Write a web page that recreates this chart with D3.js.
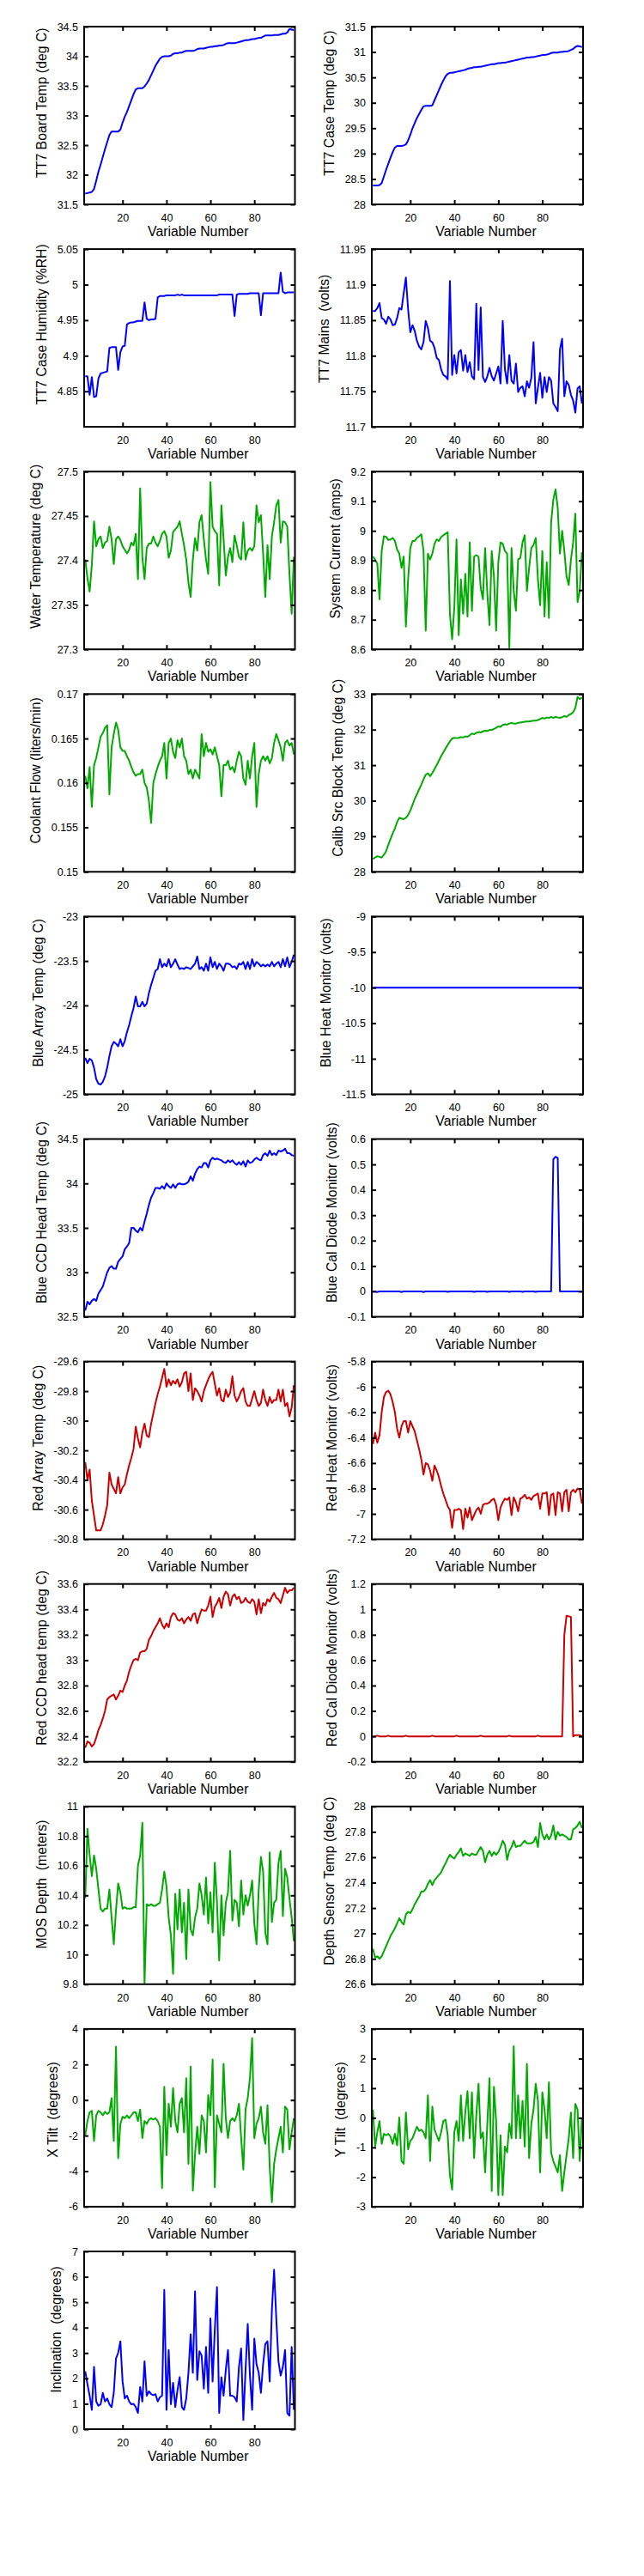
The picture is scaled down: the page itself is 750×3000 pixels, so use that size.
<!DOCTYPE html>
<html><head><meta charset="utf-8">
<script src="https://cdn.jsdelivr.net/npm/d3@7"></script>
<style>
body{margin:0;background:#fff}
svg text{font-family:"Liberation Sans",Arial,Helvetica,sans-serif;fill:#000}
</style></head>
<body><svg id="chart" width="750" height="3000"></svg>
<script>
// ---------------- DATA ----------------
const varNum = [3,4,5,6,7,8,9,10,11,12,13,14,15,16,17,18,19,20,21,22,23,24,25,26,27,28,29,30,31,32,33,34,35,36,37,38,39,40,41,42,43,44,45,46,47,48,49,50,51,52,53,54,55,56,57,58,59,60,61,62,63,64,65,66,67,68,69,70,71,72,73,74,75,76,77,78,79,80,81,82,83,84,85,86,87,88,89,90,91,92,93,94,95,96,97,98];
const xTicks = [20,40,60,80];
const xLabel = "Variable Number";

const tt7BoardTemp = [
31.68,31.69,31.70,31.71,31.76,31.90,32.05,32.17,32.30,32.43,
32.55,32.67,32.73,32.73,32.73,32.73,32.76,32.88,32.98,33.06,
33.16,33.26,33.36,33.44,33.46,33.46,33.46,33.49,33.54,33.60,
33.68,33.76,33.84,33.90,33.96,33.99,34.00,34.00,34.00,34.01,
34.04,34.05,34.05,34.06,34.06,34.08,34.09,34.09,34.09,34.09,
34.10,34.12,34.13,34.13,34.13,34.14,34.15,34.16,34.16,34.17,
34.17,34.18,34.18,34.19,34.21,34.22,34.22,34.22,34.22,34.23,
34.24,34.25,34.26,34.27,34.27,34.28,34.29,34.29,34.30,34.31,
34.31,34.33,34.35,34.35,34.35,34.35,34.36,34.36,34.36,34.37,
34.38,34.38,34.40,34.46,34.45,34.44];
const tt7CaseTemp = [
28.37,28.37,28.37,28.38,28.42,28.55,28.68,28.80,28.92,29.03,
29.12,29.15,29.15,29.15,29.16,29.18,29.26,29.37,29.50,29.60,
29.70,29.78,29.86,29.93,29.94,29.94,29.94,29.95,30.05,30.15,
30.25,30.35,30.44,30.52,30.57,30.59,30.59,30.60,30.61,30.62,
30.63,30.64,30.65,30.67,30.68,30.69,30.70,30.70,30.71,30.71,
30.72,30.73,30.74,30.75,30.76,30.76,30.77,30.78,30.78,30.79,
30.79,30.80,30.81,30.82,30.83,30.84,30.85,30.86,30.87,30.88,
30.89,30.89,30.90,30.90,30.91,30.92,30.93,30.94,30.94,30.95,
30.96,30.98,30.99,30.99,30.99,31.00,31.00,31.01,31.01,31.02,
31.04,31.06,31.10,31.12,31.11,31.10];
const tt7CaseHumidity = [
4.871,4.871,4.845,4.870,4.842,4.843,4.868,4.875,4.876,4.877,
4.878,4.911,4.912,4.912,4.912,4.880,4.905,4.913,4.914,4.944,
4.946,4.947,4.947,4.948,4.949,4.949,4.949,4.975,4.952,4.950,
4.951,4.951,4.952,4.982,4.984,4.984,4.984,4.985,4.985,4.985,
4.985,4.985,4.986,4.985,4.986,4.985,4.985,4.985,4.985,4.985,
4.985,4.985,4.985,4.985,4.985,4.985,4.985,4.985,4.985,4.985,
4.985,4.986,4.986,4.986,4.986,4.986,4.986,4.986,4.956,4.986,
4.987,4.987,4.987,4.987,4.987,4.988,4.988,4.988,4.988,4.988,
4.957,4.988,4.988,4.988,4.988,4.988,4.988,4.988,4.988,5.017,
4.990,4.988,4.989,4.989,4.989,4.989];
const tt7Mains = [
11.863,11.863,11.867,11.874,11.853,11.851,11.845,11.855,11.851,11.843,
11.844,11.853,11.867,11.865,11.888,11.910,11.865,11.833,11.843,11.835,
11.821,11.813,11.809,11.819,11.849,11.839,11.821,11.819,11.811,11.797,
11.794,11.781,11.773,11.771,11.767,11.905,11.773,11.801,11.775,11.805,
11.808,11.779,11.801,11.777,11.791,11.771,11.767,11.873,11.780,11.868,
11.770,11.763,11.771,11.783,11.771,11.765,11.775,11.785,11.761,11.849,
11.781,11.761,11.801,11.765,11.761,11.789,11.749,11.755,11.757,11.743,
11.764,11.755,11.769,11.819,11.733,11.755,11.776,11.741,11.770,11.749,
11.770,11.765,11.733,11.728,11.722,11.809,11.824,11.743,11.764,11.759,
11.745,11.737,11.720,11.754,11.757,11.733];
const waterTemp = [
27.401,27.380,27.365,27.395,27.444,27.416,27.424,27.427,27.414,27.420,
27.422,27.438,27.424,27.396,27.424,27.427,27.423,27.416,27.412,27.408,
27.412,27.420,27.417,27.430,27.379,27.481,27.404,27.379,27.414,27.419,
27.419,27.427,27.420,27.416,27.422,27.430,27.433,27.427,27.403,27.411,
27.432,27.435,27.438,27.444,27.430,27.417,27.401,27.375,27.359,27.401,
27.425,27.411,27.443,27.451,27.424,27.401,27.385,27.488,27.438,27.433,
27.430,27.372,27.462,27.424,27.383,27.404,27.414,27.398,27.428,27.417,
27.404,27.401,27.443,27.401,27.411,27.414,27.411,27.416,27.462,27.443,
27.451,27.408,27.359,27.417,27.379,27.427,27.443,27.462,27.468,27.420,
27.444,27.443,27.438,27.385,27.340,27.404];
const systemCurrent = [
8.913,8.903,8.889,8.769,8.932,8.982,8.980,8.969,8.971,8.976,
8.966,8.937,8.923,8.875,8.913,8.677,8.836,8.942,8.966,8.966,
8.976,8.982,8.988,8.932,8.663,8.923,8.903,8.923,8.956,8.971,
8.966,8.979,8.985,8.990,8.995,8.720,8.634,8.740,8.971,8.648,
8.836,8.720,8.855,8.711,8.961,8.730,8.913,8.918,8.913,8.807,
8.769,8.942,8.788,8.682,8.932,8.846,8.663,8.894,8.961,8.956,
8.932,8.923,8.605,8.942,8.797,8.730,8.903,8.908,8.961,8.985,
8.797,8.875,8.942,8.952,8.976,8.836,8.749,8.932,8.711,8.894,
8.706,9.029,9.106,9.140,9.077,8.923,9.000,8.932,8.846,8.817,
8.903,8.961,9.058,8.759,8.797,8.928];
const coolantFlow = [
0.1608,0.1594,0.1618,0.1573,0.1620,0.1628,0.1640,0.1652,0.1656,0.1662,
0.1665,0.1587,0.1640,0.1655,0.1668,0.1660,0.1640,0.1636,0.1636,0.1630,
0.1625,0.1618,0.1612,0.1608,0.1610,0.1610,0.1615,0.1600,0.1595,0.1580,
0.1555,0.1600,0.1610,0.1618,0.1625,0.1630,0.1645,0.1605,0.1645,0.1650,
0.1635,0.1628,0.1648,0.1640,0.1650,0.1630,0.1625,0.1610,0.1615,0.1605,
0.1615,0.1610,0.1605,0.1655,0.1630,0.1645,0.1635,0.1638,0.1632,0.1640,
0.1630,0.1620,0.1585,0.1620,0.1620,0.1625,0.1615,0.1618,0.1612,0.1625,
0.1635,0.1630,0.1605,0.1598,0.1625,0.1605,0.1630,0.1645,0.1573,0.1610,
0.1625,0.1630,0.1625,0.1630,0.1622,0.1628,0.1645,0.1655,0.1648,0.1640,
0.1625,0.1645,0.1648,0.1642,0.1645,0.1632];
const calibSrcBlockTemp = [
28.36,28.40,28.44,28.42,28.40,28.48,28.58,28.76,28.92,29.08,
29.22,29.40,29.52,29.50,29.48,29.52,29.60,29.72,29.88,30.05,
30.18,30.32,30.45,30.60,30.73,30.77,30.69,30.78,30.89,31.00,
31.13,31.25,31.36,31.47,31.57,31.67,31.75,31.77,31.76,31.77,
31.79,31.78,31.81,31.80,31.84,31.89,31.87,31.91,31.93,31.92,
31.95,31.97,31.96,31.99,31.99,32.02,32.05,32.09,32.08,32.13,
32.15,32.14,32.17,32.19,32.17,32.17,32.19,32.20,32.21,32.22,
32.23,32.23,32.24,32.25,32.25,32.27,32.30,32.33,32.31,32.34,
32.33,32.36,32.33,32.36,32.34,32.33,32.35,32.38,32.36,32.41,
32.44,32.49,32.61,32.92,32.86,32.90];
const blueArrayTemp = [
-24.59,-24.65,-24.60,-24.62,-24.70,-24.83,-24.88,-24.89,-24.86,-24.80,
-24.70,-24.57,-24.46,-24.41,-24.43,-24.46,-24.38,-24.46,-24.40,-24.30,
-24.22,-24.12,-24.03,-23.90,-24.01,-24.01,-23.96,-24.01,-23.98,-23.86,
-23.77,-23.69,-23.61,-23.59,-23.48,-23.57,-23.53,-23.56,-23.48,-23.57,
-23.53,-23.48,-23.54,-23.59,-23.58,-23.59,-23.57,-23.58,-23.59,-23.56,
-23.53,-23.45,-23.59,-23.57,-23.61,-23.53,-23.61,-23.46,-23.57,-23.51,
-23.59,-23.53,-23.56,-23.61,-23.53,-23.53,-23.54,-23.57,-23.56,-23.59,
-23.53,-23.54,-23.51,-23.59,-23.51,-23.59,-23.48,-23.56,-23.51,-23.53,
-23.56,-23.54,-23.56,-23.54,-23.56,-23.51,-23.56,-23.53,-23.51,-23.57,
-23.48,-23.56,-23.46,-23.57,-23.51,-23.43];
const blueHeatMonitor = [
-10,-10,-10,-10,-10,-10,-10,-10,-10,-10,
-10,-10,-10,-10,-10,-10,-10,-10,-10,-10,
-10,-10,-10,-10,-10,-10,-10,-10,-10,-10,
-10,-10,-10,-10,-10,-10,-10,-10,-10,-10,
-10,-10,-10,-10,-10,-10,-10,-10,-10,-10,
-10,-10,-10,-10,-10,-10,-10,-10,-10,-10,
-10,-10,-10,-10,-10,-10,-10,-10,-10,-10,
-10,-10,-10,-10,-10,-10,-10,-10,-10,-10,
-10,-10,-10,-10,-10,-10,-10,-10,-10,-10,
-10,-10,-10,-10,-10,-10];
const blueCcdHeadTemp = [
32.57,32.67,32.64,32.68,32.70,32.68,32.76,32.80,32.84,32.92,
33.00,33.05,33.07,33.04,33.04,33.12,33.15,33.18,33.26,33.29,
33.33,33.50,33.50,33.47,33.45,33.50,33.47,33.57,33.66,33.76,
33.84,33.89,33.95,33.95,33.94,33.97,33.94,34.00,33.97,33.95,
33.99,33.95,33.99,34.00,33.99,33.99,34.00,34.02,34.08,34.03,
34.11,34.16,34.19,34.18,34.23,34.23,34.18,34.26,34.29,34.27,
34.28,34.27,34.26,34.24,34.23,34.26,34.24,34.26,34.23,34.21,
34.24,34.21,34.25,34.19,34.26,34.23,34.24,34.27,34.29,34.27,
34.26,34.32,34.34,34.31,34.37,34.32,34.34,34.32,34.37,34.36,
34.37,34.39,34.34,34.34,34.32,34.31];
const blueCalDiode = [
0,0,-0.003,0,0,0,0,0,0,0,
0,0,0,-0.003,0,0,0,0,0,0,
0,0,0,-0.003,0,0,0,0,0,0,
0,0,0,0,-0.002,0,0,0,0,0,
0,0,0,0,0,0,-0.002,0,0,0,
0,0,-0.002,0,0,0,0,0,0,0,
0,0,-0.002,0,0,0,0,0,-0.002,0,
0,0,0,0,-0.002,0,0,0,0,0,
0,0,0.52,0.53,0.525,0,0,0,0,0,
0,0,0,0,0,0];
const redArrayTemp = [
-30.28,-30.40,-30.33,-30.54,-30.64,-30.74,-30.74,-30.74,-30.70,-30.64,
-30.57,-30.35,-30.43,-30.46,-30.49,-30.38,-30.49,-30.45,-30.43,-30.36,
-30.30,-30.25,-30.19,-30.04,-30.12,-30.18,-30.08,-30.02,-30.10,-30.11,
-30.02,-29.95,-29.88,-29.82,-29.77,-29.71,-29.65,-29.77,-29.72,-29.76,
-29.73,-29.75,-29.72,-29.77,-29.74,-29.68,-29.67,-29.80,-29.68,-29.86,
-29.78,-29.80,-29.83,-29.87,-29.80,-29.76,-29.72,-29.69,-29.67,-29.75,
-29.83,-29.78,-29.86,-29.87,-29.79,-29.84,-29.81,-29.70,-29.83,-29.87,
-29.84,-29.80,-29.78,-29.87,-29.90,-29.90,-29.85,-29.80,-29.86,-29.90,
-29.88,-29.79,-29.86,-29.90,-29.84,-29.88,-29.86,-29.86,-29.79,-29.87,
-29.79,-29.90,-29.88,-29.97,-29.91,-29.76];
const redHeatMonitor = [
-6.45,-6.36,-6.44,-6.38,-6.20,-6.08,-6.04,-6.03,-6.06,-6.12,
-6.20,-6.33,-6.40,-6.31,-6.27,-6.27,-6.36,-6.27,-6.31,-6.35,
-6.42,-6.49,-6.57,-6.69,-6.60,-6.61,-6.66,-6.74,-6.62,-6.66,
-6.71,-6.78,-6.84,-6.89,-6.94,-6.97,-7.11,-6.97,-6.97,-6.96,
-6.97,-7.12,-6.96,-7.03,-6.95,-7.05,-7.01,-6.97,-6.95,-7.00,
-6.93,-6.92,-6.92,-6.91,-6.89,-6.88,-6.93,-7.05,-6.95,-6.91,
-6.88,-6.89,-6.87,-7.01,-6.87,-6.91,-6.98,-6.88,-6.87,-6.85,
-6.88,-6.87,-6.89,-6.86,-6.85,-6.84,-6.96,-6.84,-6.84,-6.83,
-7.01,-6.85,-6.84,-7.01,-6.83,-6.84,-6.98,-6.83,-6.81,-6.98,
-6.83,-6.81,-6.83,-6.80,-6.81,-6.92];
const redCcdHeadTemp = [
32.31,32.36,32.35,32.32,32.34,32.39,32.45,32.49,32.54,32.60,
32.69,32.71,32.72,32.73,32.69,32.72,32.76,32.75,32.80,32.84,
32.91,32.96,33.00,33.01,33.00,33.06,33.07,33.07,33.09,33.16,
33.19,33.23,33.26,33.29,33.33,33.28,33.25,33.29,33.26,33.34,
33.37,33.36,33.32,33.31,33.33,33.29,33.32,33.34,33.31,33.36,
33.37,33.29,33.35,33.40,33.39,33.39,33.43,33.50,33.34,33.42,
33.45,33.49,33.41,33.50,33.54,33.52,33.43,33.50,33.52,33.48,
33.50,33.45,33.46,33.49,33.46,33.45,33.48,33.46,33.36,33.48,
33.37,33.45,33.43,33.48,33.46,33.50,33.53,33.49,33.48,33.45,
33.51,33.57,33.53,33.55,33.55,33.57];
const redCalDiode = [
0,0,0.005,0,0,0,0,0.005,0,0,
0,0,0,0,0,0.005,0,0,0,0,
0,0,0,0,0,0,0,0.005,0,0,
0,0,0,0,0,0,0,0,0.005,0,
0,0,0,0,0,0,0,0,0,0.005,
0,0,0,0,0,0,0,0,0,0,
0,0,0.005,0,0,0,0,0,0,0,
0,0,0,0,0,0.005,0,0,0,0,
0,0,0,0,0,0,0,0.80,0.95,0.945,
0.94,0,0.01,0.01,0.01,0];
const mosDepth = [
10.38,10.85,10.67,10.53,10.67,10.58,10.44,10.31,10.29,10.31,
10.31,10.44,10.25,10.07,10.30,10.48,10.42,10.31,10.32,10.31,
10.31,10.31,10.32,10.32,10.60,10.67,10.89,9.80,10.34,10.33,
10.34,10.33,10.33,10.34,10.35,10.44,10.56,10.46,10.25,10.13,
9.87,10.41,10.17,10.44,10.15,10.35,9.97,10.44,10.17,10.13,
10.25,10.31,10.48,10.40,10.27,10.52,10.21,10.42,10.15,10.62,
10.35,9.96,10.40,10.13,10.35,10.42,10.70,10.23,10.37,10.35,
10.19,10.50,10.27,10.40,10.33,10.40,10.50,10.21,10.07,10.44,
10.66,10.56,10.15,10.07,10.69,10.22,10.35,10.37,10.62,10.70,
10.26,10.58,10.52,10.38,10.25,10.09];
const depthSensorTemp = [
26.88,26.81,26.82,26.80,26.82,26.86,26.90,26.94,26.98,27.01,
27.04,27.08,27.12,27.09,27.07,27.15,27.17,27.16,27.19,27.23,
27.26,27.29,27.33,27.33,27.35,27.39,27.42,27.38,27.42,27.44,
27.46,27.48,27.52,27.55,27.59,27.62,27.60,27.59,27.62,27.64,
27.67,27.61,27.63,27.62,27.61,27.63,27.62,27.62,27.65,27.68,
27.65,27.56,27.62,27.65,27.61,27.64,27.62,27.64,27.68,27.73,
27.70,27.58,27.65,27.68,27.73,27.68,27.69,27.69,27.71,27.73,
27.71,27.71,27.71,27.72,27.76,27.68,27.87,27.78,27.74,27.78,
27.74,27.77,27.85,27.74,27.80,27.77,27.78,27.77,27.76,27.74,
27.74,27.82,27.83,27.85,27.88,27.83];
const xTilt = [
-1.98,-1.18,-0.69,-0.61,-2.30,-0.86,-0.61,-0.69,-0.86,-0.66,
-0.78,-0.69,0.11,-2.30,3.00,-3.27,-1.34,-0.94,-1.02,-0.86,
-1.02,-0.86,-0.69,-0.69,-1.18,-0.53,-2.14,-1.18,-1.34,-1.10,
-1.02,-1.10,-1.02,-1.18,-1.50,-4.95,0.75,-3.11,-0.21,-1.50,
0.67,-1.18,-1.82,-0.21,0.11,-1.82,1.23,-3.59,1.88,-5.10,
-3.03,-1.50,-3.03,-0.86,-1.18,-2.95,0.27,-0.86,2.28,-4.90,
-0.86,-1.34,-1.82,2.04,-1.02,-2.14,-1.18,-1.02,-1.18,-0.86,
-0.21,-2.14,-3.91,-0.53,0.11,1.23,3.49,-2.14,-1.34,-1.02,
-0.37,-1.82,-2.46,-0.29,-3.75,-5.75,-3.59,-2.78,-2.14,-1.50,
-2.95,-0.37,-0.53,-2.78,-1.82,-1.02];
const yTilt = [
0.28,-0.97,-0.49,-0.11,-0.88,-0.54,-0.59,-0.54,-0.64,-0.88,
-0.54,-0.93,0.01,-1.46,-1.55,0.18,-1.07,-0.78,-0.69,-0.49,
-0.30,-0.44,-0.40,-0.49,-0.69,0.76,-1.46,0.38,-0.40,-0.59,
-0.78,-0.49,-0.11,-0.06,-0.59,-1.94,-2.42,-0.49,-0.11,-0.78,
0.76,-0.78,0.20,0.90,-0.69,0.86,-1.36,0.09,1.15,-0.69,
-0.49,-1.84,-0.20,1.34,-2.47,1.05,-0.11,-2.61,-0.59,-2.61,
-0.97,-1.17,-0.20,-0.69,2.42,-0.69,0.76,-0.69,0.57,-0.97,
1.82,-1.36,-0.20,0.28,1.15,0.57,-1.84,0.86,0.28,-0.69,
1.20,-1.17,-1.46,-1.65,-1.84,-1.26,-2.47,-1.84,-1.26,-0.69,
0.18,-1.36,0.47,0.28,-1.46,0.01];
const inclination = [
2.28,1.77,1.32,0.76,2.45,1.09,0.92,0.98,1.43,1.09,
1.21,0.98,0.87,1.43,2.78,3.01,3.46,1.88,1.21,1.32,
1.09,0.98,1.00,0.87,0.64,1.66,1.09,2.67,1.32,1.49,
1.38,1.34,1.38,1.09,1.26,1.32,5.49,0.76,3.12,0.98,
1.83,0.87,1.54,2.05,0.87,0.76,1.21,2.22,3.74,2.22,
5.43,1.94,3.07,2.90,1.60,3.24,1.43,4.36,1.88,3.91,
5.60,0.64,2.05,1.32,2.33,3.12,1.32,1.32,1.26,1.09,
2.45,3.18,0.36,2.33,4.14,2.11,0.76,3.57,2.56,2.22,
1.43,2.56,3.35,3.46,1.88,4.70,6.28,4.36,2.67,2.11,
2.45,3.12,0.64,0.53,3.24,0.76];

// y-axis labels, limits and ticks for each panel (reading order)
const yLabels = ["TT7 Board Temp (deg C)","TT7 Case Temp (deg C)","TT7 Case Humidity (%RH)","TT7 Mains  (volts)",
 "Water Temperature (deg C)","System Current (amps)","Coolant Flow (liters/min)","Calib Src Block Temp (deg C)",
 "Blue Array Temp (deg C)","Blue Heat Monitor (volts)","Blue CCD Head Temp (deg C)","Blue Cal Diode Monitor (volts)",
 "Red Array Temp (deg C)","Red Heat Monitor (volts)","Red CCD head temp (deg C)","Red Cal Diode Monitor (volts)",
 "MOS Depth  (meters)","Depth Sensor Temp (deg C)","X Tilt  (degrees)","Y Tilt  (degrees)","Inclination  (degrees)"];
const yLimits = [[31.5,34.5],[28,31.5],[4.8,5.05],[11.7,11.95],
 [27.3,27.5],[8.6,9.2],[0.15,0.17],[28,33],
 [-25,-23],[-11.5,-9],[32.5,34.5],[-0.1,0.6],
 [-30.8,-29.6],[-7.2,-5.8],[32.2,33.6],[-0.2,1.2],
 [9.8,11],[26.6,28],[-6,4],[-3,3],[0,7]];
const yTickValues = [
 [31.5,32,32.5,33,33.5,34,34.5],[28,28.5,29,29.5,30,30.5,31,31.5],[4.85,4.9,4.95,5,5.05],[11.7,11.75,11.8,11.85,11.9,11.95],
 [27.3,27.35,27.4,27.45,27.5],[8.6,8.7,8.8,8.9,9,9.1,9.2],[0.15,0.155,0.16,0.165,0.17],[28,29,30,31,32,33],
 [-25,-24.5,-24,-23.5,-23],[-11.5,-11,-10.5,-10,-9.5,-9],[32.5,33,33.5,34,34.5],[-0.1,0,0.1,0.2,0.3,0.4,0.5,0.6],
 [-30.8,-30.6,-30.4,-30.2,-30,-29.8,-29.6],[-7.2,-7,-6.8,-6.6,-6.4,-6.2,-6,-5.8],[32.2,32.4,32.6,32.8,33,33.2,33.4,33.6],[-0.2,0,0.2,0.4,0.6,0.8,1,1.2],
 [9.8,10,10.2,10.4,10.6,10.8,11],[26.6,26.8,27,27.2,27.4,27.6,27.8,28],[-6,-4,-2,0,2,4],[-3,-2,-1,0,1,2,3],[0,1,2,3,4,5,6,7]];
const seriesList = [tt7BoardTemp,tt7CaseTemp,tt7CaseHumidity,tt7Mains,
 waterTemp,systemCurrent,coolantFlow,calibSrcBlockTemp,
 blueArrayTemp,blueHeatMonitor,blueCcdHeadTemp,blueCalDiode,
 redArrayTemp,redHeatMonitor,redCcdHeadTemp,redCalDiode,
 mosDepth,depthSensorTemp,xTilt,yTilt,inclination];
const seriesColorKey = ["b","b","b","b","g","g","g","g","b","b","b","b","r","r","r","r","g","g","g","g","b"];

// ---------------- DRAWING ----------------
const COLORS = {b:"#0000ff", g:"#00aa00", r:"#cc0000"};
const svg = d3.select("#chart");
const colLeft = [98, 433], colWidth = [245.5, 246];
const top0 = 31, rowStep = 259.1, plotH = 207;
const xDomain = [2.5, 98.5];
const tickFont = 12.5, labelFont = 15.8;

seriesList.forEach((vals, i) => {
  const col = i % 2, row = Math.floor(i / 2);
  const x0 = colLeft[col], w = colWidth[col], y0 = top0 + row * rowStep;
  const x = d3.scaleLinear().domain(xDomain).range([x0, x0 + w]);
  const y = d3.scaleLinear().domain(yLimits[i]).range([y0 + plotH, y0]);
  const g = svg.append("g");

  const clipId = "clip" + i;
  g.append("clipPath").attr("id", clipId).append("rect")
    .attr("x", x0).attr("y", y0).attr("width", w).attr("height", plotH);

  g.append("path").datum(vals)
    .attr("clip-path", `url(#${clipId})`)
    .attr("fill", "none").attr("stroke", COLORS[seriesColorKey[i]])
    .attr("stroke-width", 2).attr("stroke-linejoin", "round")
    .attr("d", d3.line().x((d, j) => x(varNum[j])).y(d => y(d)));

  const fmt = d => String(d);
  const styleAxis = sel => {
    sel.select(".domain").remove();
    sel.selectAll(".tick line").attr("stroke", "#000").attr("stroke-width", 2);
    sel.selectAll(".tick text").attr("font-size", tickFont).attr("font-family", "Liberation Sans, Arial, sans-serif").attr("fill", "#000");
  };
  const bottom = g.append("g").attr("transform", `translate(0,${y0 + plotH})`)
    .call(d3.axisBottom(x).tickValues(xTicks).tickSize(-5).tickPadding(11).tickFormat(fmt));
  styleAxis(bottom);
  const topA = g.append("g").attr("transform", `translate(0,${y0})`)
    .call(d3.axisTop(x).tickValues(xTicks).tickSize(-5).tickFormat(""));
  styleAxis(topA);
  const left = g.append("g").attr("transform", `translate(${x0},0)`)
    .call(d3.axisLeft(y).tickValues(yTickValues[i]).tickSize(-5).tickPadding(7).tickFormat(fmt));
  styleAxis(left);
  const right = g.append("g").attr("transform", `translate(${x0 + w},0)`)
    .call(d3.axisRight(y).tickValues(yTickValues[i]).tickSize(-5).tickFormat(""));
  styleAxis(right);

  g.append("rect").attr("x", x0).attr("y", y0).attr("width", w).attr("height", plotH)
    .attr("fill", "none").attr("stroke", "#000").attr("stroke-width", 2);

  // widest tick label
  let maxW = 0;
  left.selectAll(".tick text").each(function(){ maxW = Math.max(maxW, this.getComputedTextLength()); });
  const baseX = x0 - 7 - maxW - 12.7;
  const yl = g.append("text")
    .attr("transform", `translate(${baseX},${y0 + plotH / 2}) rotate(-90)`)
    .attr("text-anchor", "middle").attr("font-size", labelFont)
    .style("white-space", "pre").text(yLabels[i]);
  yl.attr("x", 0.085 * yl.node().getComputedTextLength());

  const xl = g.append("text")
    .attr("y", y0 + plotH + 37).attr("text-anchor", "middle").attr("font-size", labelFont)
    .text(xLabel);
  xl.attr("x", x0 + w / 2 + 0.085 * xl.node().getComputedTextLength());
});
</script>
</body></html>
